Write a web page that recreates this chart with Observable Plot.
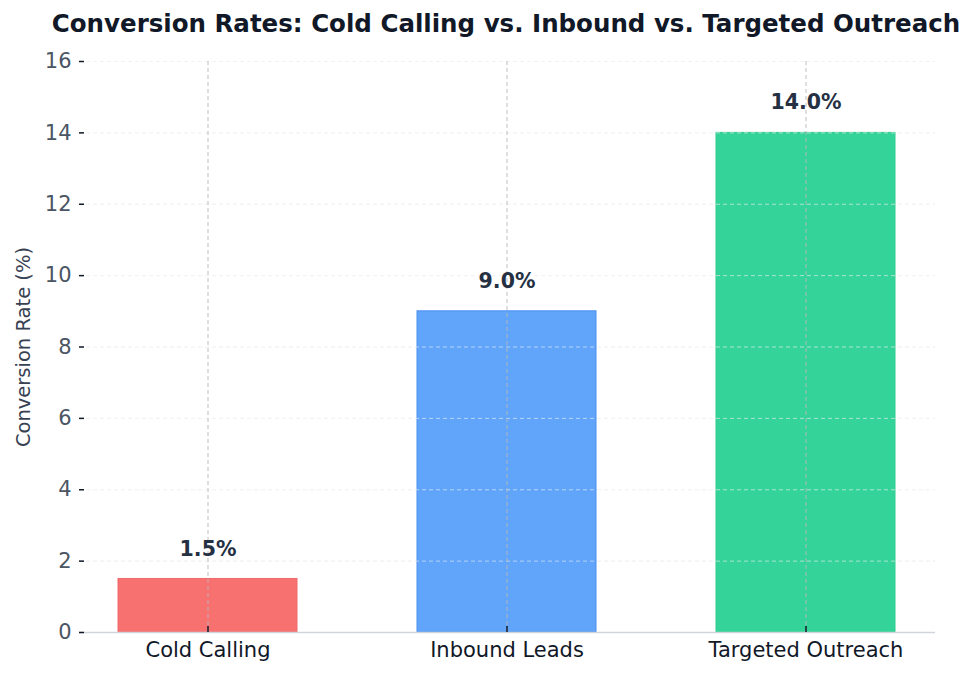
<!DOCTYPE html>
<html>
<head>
<meta charset="utf-8">
<script src="https://cdn.jsdelivr.net/npm/d3@7"></script>
<script src="https://cdn.jsdelivr.net/npm/@observablehq/plot@0.6"></script>
<style>
  body { margin: 0; background: #ffffff; font-family: "DejaVu Sans", sans-serif; }
  #title { width: 948px; height: 50px; line-height: 48px; padding-left: 32px; text-align: center;
           font-weight: bold; font-size: 24.5px; color: #111827; white-space: nowrap; overflow: visible; }
</style>
</head>
<body>
<div id="title">Conversion Rates: Cold Calling vs. Inbound vs. Targeted Outreach</div>
<div id="chart"></div>
<script>
const categories = ["Cold Calling", "Inbound Leads", "Targeted Outreach"];
const rates = [1.5, 9.0, 14.0];
const colors = ["#f87171", "#60a5fa", "#34d399"];
const edgeColors = ["#ef6b6b", "#4b8ff0", "#30cc8f"];
const yTicks = [0, 2, 4, 6, 8, 10, 12, 14, 16];

const data = categories.map((c, i) => ({category: c, rate: rates[i], color: colors[i], edge: edgeColors[i]}));

const chart = Plot.plot({
  width: 980,
  height: 624,
  marginTop: 11,
  marginBottom: 42,
  marginLeft: 79,
  marginRight: 45,
  style: {fontFamily: "DejaVu Sans, sans-serif", background: "#ffffff"},
  x: {domain: categories, paddingInner: 0.4, paddingOuter: 0.13, label: null},
  y: {domain: [0, 16], ticks: yTicks, label: null},
  marks: [
    Plot.gridY(yTicks, {stroke: "#e5e7eb", strokeOpacity: 0.6, strokeDasharray: "4,3", strokeWidth: 1}),
    Plot.barY(data, {x: "category", y: "rate", fill: "color", stroke: "edge", strokeWidth: 1}),
    Plot.gridY(yTicks, {stroke: "#f3f4f6", strokeOpacity: 0.6, strokeDasharray: "4,3", strokeWidth: 1}),
    Plot.gridX(categories, {stroke: "#b8b8b8", strokeOpacity: 0.9, strokeDasharray: "4,3", strokeWidth: 1}),
    Plot.ruleX([0], {stroke: "#d1d5db", strokeWidth: 1.5}),
    Plot.ruleY([0], {stroke: "#d1d5db", strokeWidth: 1.5}),
    Plot.axisY(yTicks, {tickSize: -5, tickFormat: () => "", stroke: "#111827", strokeWidth: 1.5, label: null}),
    Plot.axisY(yTicks, {tickSize: 0, tickPadding: 8, fontSize: 21, fill: "#4b5563", label: null}),
    Plot.axisX({tickSize: -6, tickFormat: () => "", stroke: "#111827", strokeWidth: 1.5, label: null}),
    Plot.axisX({tickSize: 0, tickPadding: 10, fontSize: 21, fill: "#111827", label: null}),
    Plot.text(data, {x: "category", y: "rate", text: d => d.rate.toFixed(1) + "%", dy: -30, fontSize: 20.5, fontWeight: "bold", fill: "#253143"}),
    Plot.text(["Conversion Rate (%)"], {frameAnchor: "left", textAnchor: "middle", rotate: -90, dx: -56, fontSize: 19.5, fill: "#374151"})
  ]
});
document.getElementById("chart").appendChild(chart);
</script>
</body>
</html>
